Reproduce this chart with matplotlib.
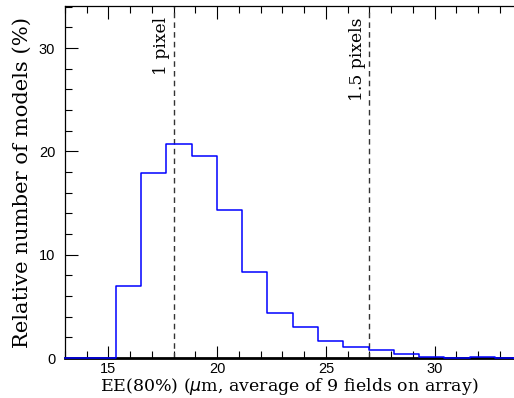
import numpy as np
import matplotlib
matplotlib.use("Agg")
import matplotlib.pyplot as plt
from matplotlib.ticker import MultipleLocator

# Histogram data (bin edges in um, relative number in %)
bin_start = 15.33
bin_width = 1.163
heights = [7.0, 17.95, 20.7, 19.55, 14.35, 8.3, 4.35, 3.0, 1.68, 1.1, 0.75, 0.4, 0.1, 0.0, 0.1, 0.0]
edges = bin_start + bin_width * np.arange(len(heights) + 1)

ref_lines = [18.0, 27.0]
ref_labels = ["1 pixel", "1.5 pixels"]

xlabel = r"EE(80%) ($\mu$m, average of 9 fields on array)"
ylabel = "Relative number of models (%)"

fig = plt.figure(figsize=(5.14, 3.98), dpi=100)
ax = fig.add_axes([65/514, 1-358/398, 1-65/514, (358-6)/398])

xlim = (13.0, 33.65)
ylim = (0, 34.07)

# step line including zero outside the bins
xs = np.concatenate([[xlim[0]], edges, [xlim[1]]])
ys = np.concatenate([[0], heights, [0, 0]])
ax.step(xs, ys, where='post', color='#0000ff', lw=1.1, zorder=3, clip_on=False)

for xv, lab in zip(ref_lines, ref_labels):
    ax.axvline(xv, color='#333333', lw=1.0, ls=(0, (4, 3)), zorder=2)
    ax.text(xv - 0.15, 33.0, lab, rotation=90, ha='right', va='top',
            family='DejaVu Serif', fontsize=12.3)

ax.set_xlim(*xlim)
ax.set_ylim(*ylim)
ax.xaxis.set_major_locator(MultipleLocator(5))
ax.xaxis.set_minor_locator(MultipleLocator(1))
ax.yaxis.set_major_locator(MultipleLocator(10))
ax.yaxis.set_minor_locator(MultipleLocator(2))
ax.tick_params(which='both', direction='in', top=True, right=False, width=0.8)
ax.tick_params(which='major', length=9)
ax.tick_params(which='minor', length=5)
for lab in ax.get_xticklabels() + ax.get_yticklabels():
    lab.set_family('Liberation Sans')
    lab.set_fontsize(10.5)
ax.tick_params(axis='x', pad=3)
ax.tick_params(axis='y', pad=7)

ax.spines['right'].set_visible(False)
ax.spines['bottom'].set_linewidth(2.0)
for s in ['top', 'left']:
    ax.spines[s].set_linewidth(0.9)

ax.set_xlabel(xlabel, family='DejaVu Serif', fontsize=12.5, labelpad=0)
ax.set_ylabel(ylabel, family='DejaVu Serif', fontsize=15.2, labelpad=5)

fig.savefig('out.png', dpi=100)
